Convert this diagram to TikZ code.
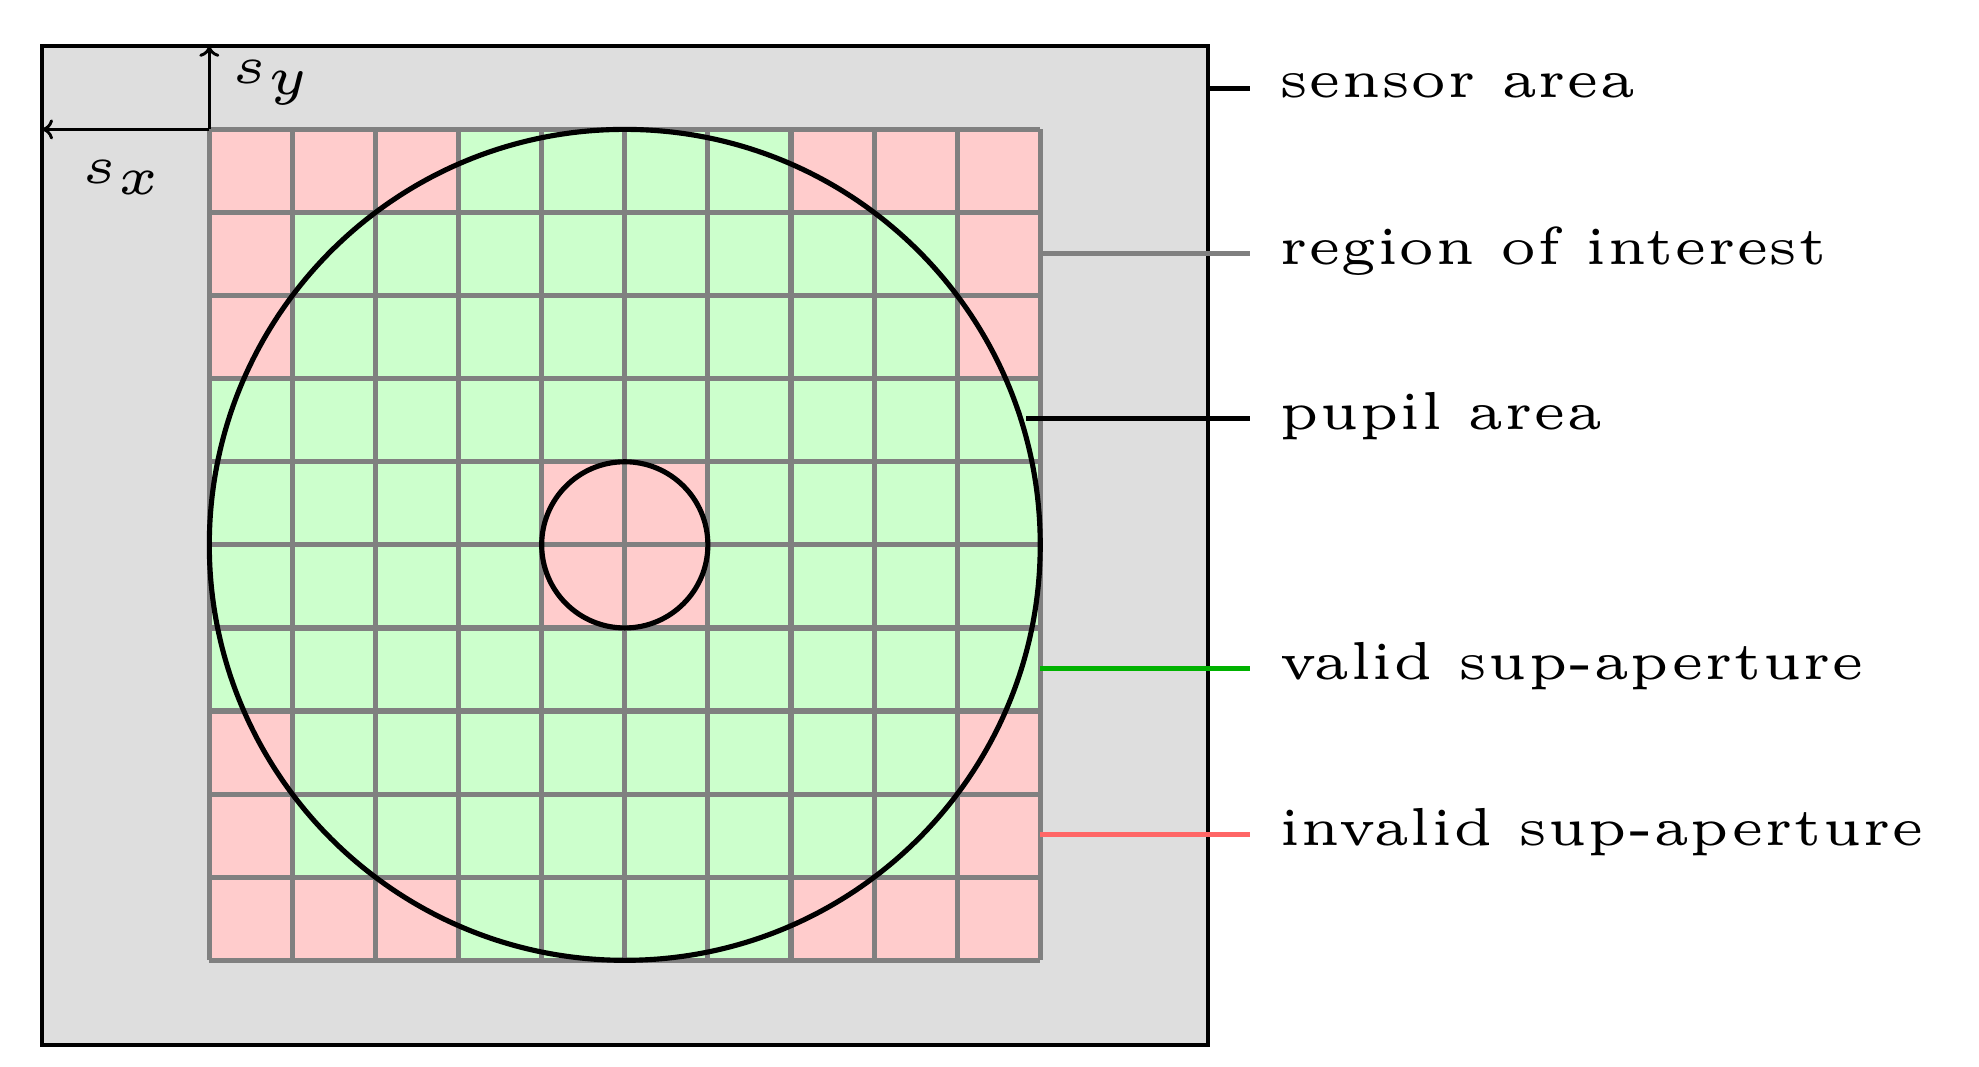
\documentclass[tikz,border=0pt]{standalone}
\usepackage{graphicx}
\usetikzlibrary{arrows.meta}
\begin{document}
\begin{tikzpicture}[x=0.02cm,y=-0.02cm,
  lbl/.style={anchor=west,inner sep=0pt},
  lead/.style={line width=2.3pt}]
\newcommand{\mylbl}[1]{\scalebox{4.8}{\fontsize{5}{6}\selectfont #1}}
\useasboundingbox (0,0) rectangle (1560,841);
\draw[fill=black!13,line width=1.8pt] (33,36) rectangle (952,824);
\foreach \r in {0,...,9}{\foreach \c in {0,...,9}{
  \pgfmathtruncatemacro{\red}{
    ((\r==0||\r==9)&&(\c<3||\c>6)) || ((\r==1||\r==2||\r==7||\r==8)&&(\c==0||\c==9)) || ((\r==4||\r==5)&&(\c==4||\c==5)) ? 1 : 0}
  \ifnum\red=1 \fill[red!20] (165+65.5*\c,102+65.5*\r) rectangle ++(65.5,65.5);
  \else \fill[green!20] (165+65.5*\c,102+65.5*\r) rectangle ++(65.5,65.5);\fi
}}
\foreach \i in {0,...,10}{
  \draw[black!50,line width=2.3pt] (165+65.5*\i,102) -- (165+65.5*\i,757);
  \draw[black!50,line width=2.3pt] (165,102+65.5*\i) -- (820,102+65.5*\i);
}
\draw[line width=2.3pt] (492.5,429.5) circle (327.5);
\draw[line width=2.3pt] (492.5,429.5) circle (65.5);
\coordinate (o) at (165,102);
\draw[-{To[length=5pt,width=9pt]},line width=1.3pt] (o) -- (33,102);
\draw[-{To[length=5pt,width=9pt]},line width=1.3pt] (o) -- (165,36);
\node (sy) at (215,65) {\mylbl{$s_y$}};
\node (sx) at (97,140) {\mylbl{$s_x$}};
\node[lbl] (l1) at (1008,68) {\mylbl{sensor area}};
\node[lbl] (l2) at (1008,198) {\mylbl{region of interest}};
\node[lbl] (l3) at (1008,328) {\mylbl{pupil area}};
\node[lbl] (l4) at (1008,525) {\mylbl{valid sup-aperture}};
\node[lbl] (l5) at (1008,656) {\mylbl{invalid sup-aperture}};
\draw[lead] (952,70) -- (985,70);
\draw[lead,black!50] (820,200) -- (985,200);
\draw[lead] (809,330) -- (985,330);
\draw[lead,green!70!black] (820,527) -- (985,527);
\draw[lead,red!60] (820,658) -- (985,658);
\end{tikzpicture}
\end{document}
